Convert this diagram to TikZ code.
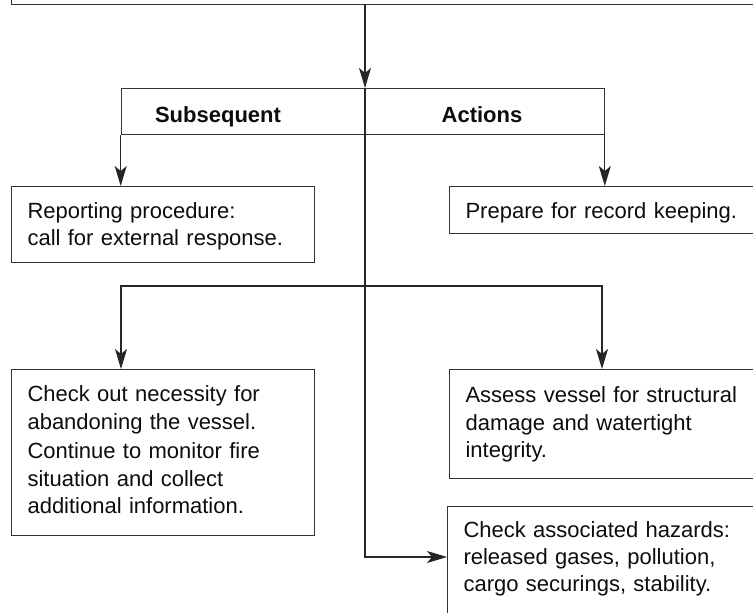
\documentclass[tikz,border=0pt]{standalone}
\usepackage{fontspec}
\setmainfont{Liberation Sans}
\usetikzlibrary{arrows.meta}

% fixed space above the first baseline and below the last one
\newcommand\openrule[1]{\rule{0pt}{#1pt}}
\newcommand\closerule[1]{\rule[-#1pt]{0pt}{#1pt}}

\begin{document}
\begin{tikzpicture}[x=1pt,y=-1pt,
  box/.style={draw=black!80, line width=1.1pt, anchor=north west,
    inner xsep=16pt, inner ysep=0pt, align=left, text width=#1,
    text=black!95, font=\fontsize{22}{27.5}\selectfont},
  hdrtext/.style={anchor=base, font=\fontsize{22}{26}\selectfont\bfseries, text=black!95},
  flow/.style={draw=black!85, line width=1.1pt},
  arrow/.style={flow, -{Stealth[length=20pt,width=12pt,inset=5pt]}}]

\useasboundingbox (0,0) rectangle (753,613);
\clip (0,0) rectangle (753,613);

% box above, only its lower edge is in view
\node[draw=black!80, line width=1.1pt, anchor=south west, minimum width=800pt,
      minimum height=60pt, inner sep=0pt] (top) at (10.5,5) {};

% header bar split by the spine
\node[draw=black!80, line width=1.1pt, anchor=north west, minimum width=483pt,
      minimum height=46pt, inner sep=0pt] (hdr) at (120.7,88) {};
\node[hdrtext] (sub) at (218,122) {Subsequent};
\node[hdrtext] (act) at (482,122) {Actions};

% action boxes
\node[box=271pt] (rep) at (11,186)
  {\openrule{32}Reporting procedure:\\[-1pt]
   call for external response.\closerule{17}};
\node[box=309pt] (prep) at (449,186)
  {\openrule{32}Prepare for record keeping.\closerule{15}};
\node[box=271pt] (chk) at (11,369)
  {\openrule{32}Check out necessity for\\
   abandoning the vessel.\\[2pt]
   Continue to monitor fire\\
   situation and collect\\
   additional information.\closerule{22}};
\node[box=309pt] (ass) at (449,369)
  {\openrule{33}Assess vessel for structural\\
   damage and watertight\\
   integrity.\closerule{21}};
\node[box=311pt] (haz) at (447,506)
  {\openrule{31}Check associated hazards:\\[-0.5pt]
   released gases, pollution,\\[-0.5pt]
   cargo securings, stability.\closerule{60}};

% spine and branch points
\coordinate (spine) at (365,0);
\coordinate (fork) at (365,286);

\draw[arrow] (top.south -| spine) -- (spine |- hdr.north);
\draw[arrow] (spine |- hdr.north) |- ([yshift=-51pt]haz.north west);
\draw[arrow] (hdr.south west) -- (hdr.south west |- rep.north);
\draw[arrow] (hdr.south east) -- (hdr.south east |- prep.north);
\draw[arrow] (fork) -| ([xshift=110pt]chk.north west);
\draw[arrow] (fork) -| ([xshift=153pt]ass.north west);
\end{tikzpicture}
\end{document}
